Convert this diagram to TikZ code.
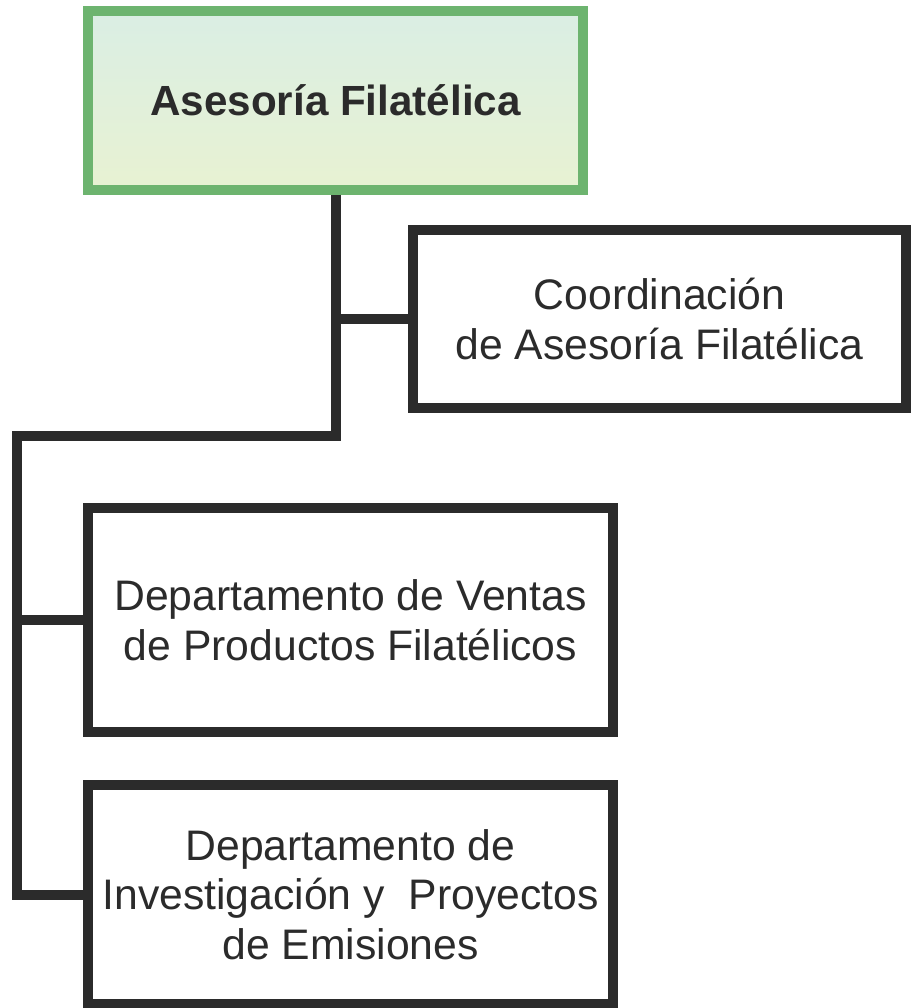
\documentclass[tikz,border=0pt]{standalone}
\usepackage{fontspec}
\setmainfont{Liberation Sans}
\definecolor{linegray}{HTML}{2B2B2B}
\definecolor{boxgreen}{HTML}{6DB46F}
\definecolor{topfill}{HTML}{DAEEE4}
\definecolor{bottomfill}{HTML}{E8F2D2}
\tikzset{
	unit/.style={draw=linegray, line width=0.2cm, fill=white, text=linegray, align=center, inner sep=0pt, font=\fontsize{24.3}{28.3}\selectfont},
	headunit/.style={unit, draw=boxgreen, top color=topfill, bottom color=bottomfill, font=\fontsize{24}{28}\selectfont\bfseries},
	link/.style={draw=linegray, line width=0.2cm, line join=miter}
}

\begin{document}
\begin{tikzpicture}
			\useasboundingbox (0, 0) rectangle (18.2, -20.16);
			\node[headunit, minimum width=9.9cm, minimum height=3.58cm] (head) at (6.71, -2.01) {\raisebox{-0.12cm}{Asesoría Filatélica}};
			\node[unit, minimum width=9.86cm, minimum height=3.56cm] (coord) at (13.19, -6.38) {Coordinación\\de Asesoría Filatélica};
			\node[unit, minimum width=10.5cm, minimum height=4.48cm] (sales) at (7.01, -12.4) {Departamento de Ventas\\de Productos Filatélicos};
			\node[unit, minimum width=10.5cm, minimum height=4.38cm] (research) at (7.01, -17.89) {Departamento de\\Investigación y~ Proyectos\\de Emisiones};
			\coordinate (bend) at (head.south |- 0, -8.71);
			\coordinate (corner) at (0.34, -8.71);
			\draw[link] (head.south) -- (bend) -- (corner) |- (research.west);
			\draw[link] (corner |- sales.west) -- (sales.west);
			\draw[link] (head.south |- coord.west) -- (coord.west);
		\end{tikzpicture}
\end{document}
